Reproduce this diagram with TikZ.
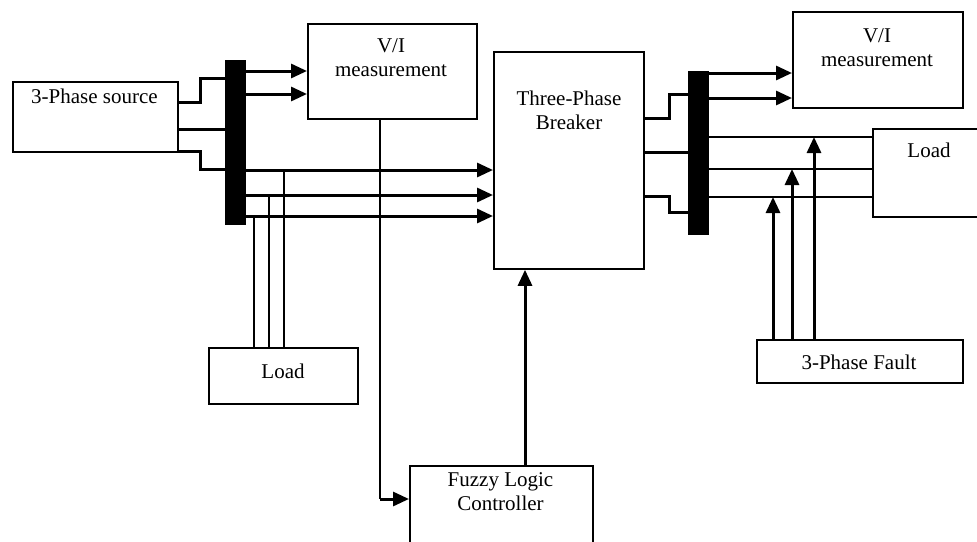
\documentclass[tikz,border=0pt]{standalone}
\usepackage{fontspec}
\setmainfont{Liberation Serif}
\usetikzlibrary{arrows.meta}
\begin{document}
\begin{tikzpicture}[x=1pt,y=-1pt,
  box/.style={draw,line width=1.8pt,inner sep=0pt,anchor=north west},
  bar/.style={fill=black,draw=none,inner sep=0pt,anchor=north west},
  lbl/.style={inner sep=0pt,align=center,font=\fontsize{21}{24}\selectfont},
  wire/.style={line width=3pt},
  thinwire/.style={line width=1.8pt},
  arr/.style={-{Triangle[length=16pt,width=14pt]}}]
\useasboundingbox (0,0) rectangle (977,541);
% boxes
\node[box,minimum width=165pt,minimum height=70pt] (src) at (12,81) {};
\node[bar,minimum width=21pt,minimum height=165pt] (busL) at (225,60) {};
\node[box,minimum width=169pt,minimum height=95pt] (vi1) at (307,23) {};
\node[box,minimum width=150pt,minimum height=217pt] (brk) at (493,51) {};
\node[box,minimum width=149pt,minimum height=56pt] (loadL) at (208,347) {};
\node[box,minimum width=183pt,minimum height=85pt] (flc) at (409,465) {};
\node[bar,minimum width=21pt,minimum height=164pt] (busR) at (688,71) {};
\node[box,minimum width=170pt,minimum height=96pt] (vi2) at (792,11) {};
\node[box,minimum width=120pt,minimum height=88pt] (loadR) at (872,128) {};
\node[box,minimum width=206pt,minimum height=43pt] (fault) at (756,339) {};
% labels
\node[lbl] (srcT) at (94.5,96.5) {3-Phase source};
\node[lbl] (vi1T) at (391,57.5) {V/I\\measurement};
\node[lbl] (brkT) at (569,110.5) {Three-Phase\\Breaker};
\node[lbl] (loadLT) at (283,371) {Load};
\node[lbl] (flcT) at (500.5,492) {Fuzzy Logic\\Controller};
\node[lbl] (vi2T) at (877,47.5) {V/I\\measurement};
\node[lbl] (loadRT) at (929,150) {Load};
\node[lbl] (faultT) at (859,362) {3-Phase Fault};
% source to left bus
\draw[wire] (src.east |- 0,102) -| (200,78) -- (busL.west |- 0,78);
\draw[wire] (src.east |- 0,129) -- (busL.west |- 0,129);
\draw[wire] (src.east |- 0,151) -| (200,169) -- (busL.west |- 0,169);
% left bus to V/I
\draw[wire,arr] (busL.east |- 0,71) -- (vi1.west |- 0,71);
\draw[wire,arr] (busL.east |- 0,94) -- (vi1.west |- 0,94);
% left bus to breaker
\draw[wire,arr] (busL.east |- 0,170) -- (brk.west |- 0,170);
\draw[wire,arr] (busL.east |- 0,195) -- (brk.west |- 0,195);
\draw[wire,arr] (busL.east |- 0,216) -- (brk.west |- 0,216);
% taps to left load
\coordinate (tA) at (284,170);
\coordinate (tB) at (269,195);
\coordinate (tC) at (254,216);
\draw[thinwire] (tA) -- (loadL.north -| tA);
\draw[thinwire] (tB) -- (loadL.north -| tB);
\draw[thinwire] (tC) -- (loadL.north -| tC);
% V/I to fuzzy
\draw[line width=2pt] (vi1.south -| 380,0) -- (380,499);
\draw[wire,arr] (380,499) -- (flc.west |- 0,499);
% fuzzy to breaker
\draw[wire,arr] (flc.north -| 525,0) -- (brk.south -| 525,0);
% breaker to right bus
\draw[wire] (brk.east |- 0,118) -| (669,94) -- (busR.west |- 0,94);
\draw[wire] (brk.east |- 0,152) -- (busR.west |- 0,152);
\draw[wire] (brk.east |- 0,196) -| (669,212) -- (busR.west |- 0,212);
% right bus to V/I
\draw[wire,arr] (busR.east |- 0,73) -- (vi2.west |- 0,73);
\draw[wire,arr] (busR.east |- 0,98) -- (vi2.west |- 0,98);
% right bus to load
\draw[thinwire] (busR.east |- 0,137) -- (loadR.west |- 0,137);
\draw[thinwire] (busR.east |- 0,169) -- (loadR.west |- 0,169);
\draw[thinwire] (busR.east |- 0,197) -- (loadR.west |- 0,197);
% fault arrows
\coordinate (fA) at (773,197);
\coordinate (fB) at (792,169);
\coordinate (fC) at (814,137);
\draw[wire,arr] (fault.north -| fA) -- (fA);
\draw[wire,arr] (fault.north -| fB) -- (fB);
\draw[wire,arr] (fault.north -| fC) -- (fC);
\end{tikzpicture}
\end{document}
